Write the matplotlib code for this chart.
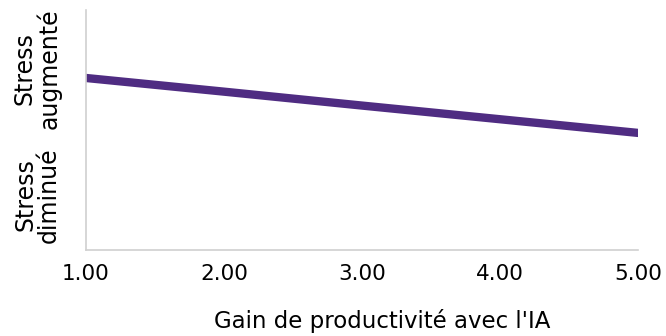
import matplotlib.pyplot as plt

plt.rcParams['font.family'] = ['DejaVu Sans']

# gain de productivité (x) et niveau de stress relatif (y, 0 = diminué, 1 = augmenté)
gain = [1, 2, 3, 4, 5]
stress = [0.717, 0.660, 0.602, 0.545, 0.488]
xticks = [1, 2, 3, 4, 5]
xlabel = "Gain de productivité avec l'IA"
ylab_haut = "Stress\naugmenté"
ylab_bas = "Stress\ndiminué"

fig = plt.figure(figsize=(6.66, 3.36), dpi=100)
ax = fig.add_axes([0.129, 0.256, 0.829, 0.714])

ax.plot(gain, stress, color='#4f2c82', linewidth=6, solid_capstyle='round')

ax.set_xlim(1, 5)
ax.set_ylim(0, 1)
ax.set_xticks(xticks)
ax.set_xticklabels([f'{v:.2f}' for v in xticks], fontsize=15.5)
ax.set_yticks([])
ax.tick_params(axis='x', length=0, pad=10)
ax.set_xlabel(xlabel, fontsize=16.5, labelpad=18)
ax.xaxis.label.set_x(0.536)

for side in ['top', 'right']:
    ax.spines[side].set_visible(False)
for side in ['left', 'bottom']:
    ax.spines[side].set_color('#d0d0d0')
    ax.spines[side].set_linewidth(1.2)

fig.text(37 / 666, 1 - 69 / 336, ylab_haut, rotation=90, ha='center', va='center',
         fontsize=17, linespacing=1.0)
fig.text(37 / 666, 1 - 195 / 336, ylab_bas, rotation=90, ha='center', va='center',
         fontsize=17, linespacing=1.0)

fig.savefig('out.png', dpi=100)
